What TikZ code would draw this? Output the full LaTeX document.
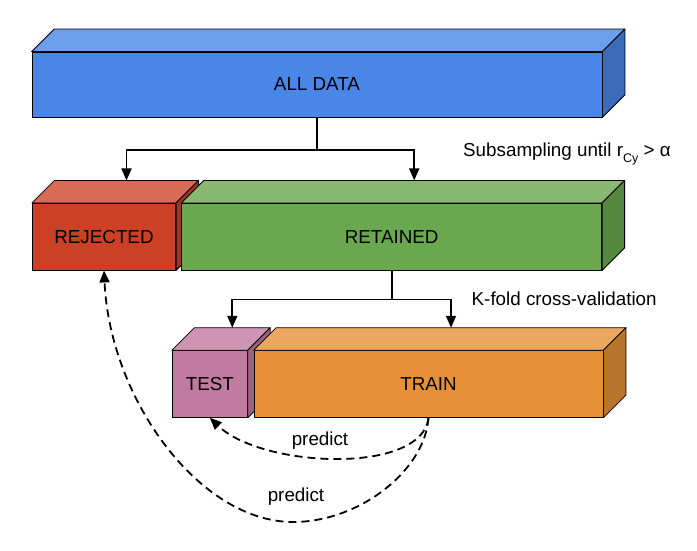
\documentclass[tikz,border=0pt]{standalone}
\usepackage{fontspec}
\setmainfont{Liberation Sans}
\usetikzlibrary{calc,arrows.meta}
\definecolor{blueF}{HTML}{4A86E8}\definecolor{blueT}{HTML}{6D9EEB}\definecolor{blueS}{HTML}{3C6BBA}
\definecolor{redF}{HTML}{CC4125}\definecolor{redT}{HTML}{D86B55}\definecolor{redS}{HTML}{A3341E}
\definecolor{greenF}{HTML}{6AA84F}\definecolor{greenT}{HTML}{88B872}\definecolor{greenS}{HTML}{55873F}
\definecolor{pinkF}{HTML}{C27BA0}\definecolor{pinkT}{HTML}{CE95B3}\definecolor{pinkS}{HTML}{9B6280}
\definecolor{orangeF}{HTML}{E69138}\definecolor{orangeT}{HTML}{EBA762}\definecolor{orangeS}{HTML}{B8742D}
\newcommand\myfaces[3]{%
  \draw[face,fill=#2] (#1.north west) -- ++(22.5,-22.5) -- ($(#1.north east)+(22.5,-22.5)$) -- (#1.north east) -- cycle;
  \draw[face,fill=#3] (#1.north east) -- ++(22.5,-22.5) -- ($(#1.south east)+(22.5,-22.5)$) -- (#1.south east) -- cycle;}
\tikzset{
  front/.style={draw, line width=0.8bp, inner sep=0pt, font=\fontsize{18.8bp}{22bp}\selectfont},
  face/.style={draw, line width=0.8bp, line join=round},
  arr/.style={line width=1.8bp, -{Triangle[width=10bp,length=12bp]}},
  darr/.style={line width=1.8bp, dash pattern=on 8bp off 5bp, -{Triangle[width=10bp,length=12bp]}},
  lbl/.style={font=\fontsize{18.8bp}{22bp}\selectfont, inner sep=0pt}
}
\begin{document}
\begin{tikzpicture}[x=1bp,y=-1bp]
\useasboundingbox (0,0) rectangle (697,551);
% ALL DATA
\node[front, fill=blueF, minimum width=570bp, minimum height=65bp] (all) at (317,84.5) {ALL DATA};
\myfaces{all}{blueT}{blueS}
% REJECTED
\node[front, fill=redF, minimum width=143.4bp, minimum height=66.7bp] (rej) at (104,236.7) {REJECTED};
\myfaces{rej}{redT}{redS}
% RETAINED
\node[front, fill=greenF, minimum width=420bp, minimum height=66.7bp] (ret) at (391.7,236.7) {RETAINED};
\myfaces{ret}{greenT}{greenS}
% TEST
\node[front, fill=pinkF, minimum width=75bp, minimum height=66.7bp] (test) at (209.8,384) {TEST};
\myfaces{test}{pinkT}{pinkS}
% TRAIN
\node[front, fill=orangeF, minimum width=349bp, minimum height=66.7bp] (train) at (428.5,384) {TRAIN};
\myfaces{train}{orangeT}{orangeS}
% back-top targets
\coordinate (rejb) at ($(rej.north)+(22.5,-22.5)$);
\coordinate (retb) at ($(ret.north)+(22.5,-22.5)$);
\coordinate (testb) at ($(test.north)+(22.5,-22.5)$);
\coordinate (trainb) at ($(train.north)+(22.5,-22.5)$);
% split arrows
\draw[arr] (all.south) -- ++(0,33) -| (rejb);
\draw[arr] (all.south) -- ++(0,33) -| (retb);
\draw[arr] (ret.south) -- ++(0,29) -| (testb);
\draw[arr] (ret.south) -- ++(0,29) -| (trainb);
% labels
\node[lbl, anchor=base west] (sub) at (463,157) {Subsampling until r\raisebox{-6bp}{\fontsize{12.5bp}{12bp}\selectfont Cy} > α};
\node[lbl, anchor=base west] (kf) at (471.5,305) {K-fold cross-validation};
% predict curves
\draw[darr] (train.south) .. controls (422,475) and (262,468) .. (test.south);
\node[lbl] (p1) at (320,441) {predict};
\coordinate (low) at (293,522);
\draw[darr] (train.south) .. controls (425,470) and (360,522) .. (low) .. controls (200,522) and (110,400) .. (rej.south);
\node[lbl] (p2) at (296,497) {predict};
\end{tikzpicture}
\end{document}
